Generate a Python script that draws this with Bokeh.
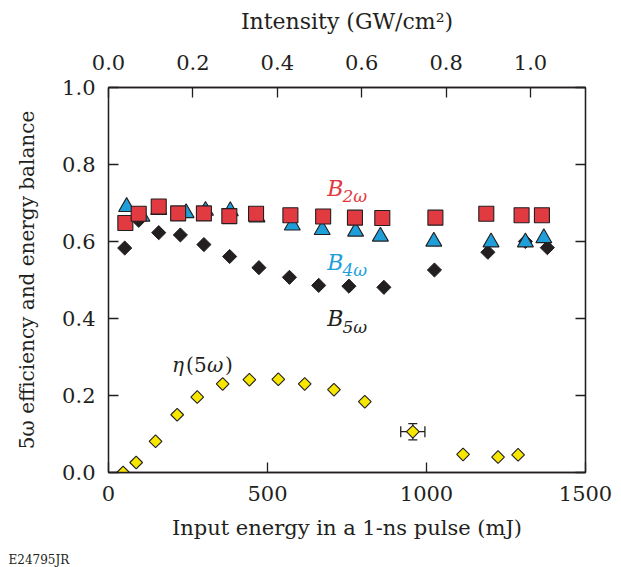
import math
from bokeh.plotting import figure
from bokeh.models import (Range1d, LinearAxis, FixedTicker, NumeralTickFormatter,
                          Label, Whisker, ColumnDataSource, TeeHead, Title)
from bokeh.embed import file_html
from bokeh.resources import INLINE

# ---------------- data ----------------
# B(2w) energy balance, red squares
b2_energy = [53, 95, 158, 219, 300, 380, 464, 572, 675, 775, 861, 1028, 1188, 1299, 1363]
b2_value = [0.648, 0.672, 0.691, 0.673, 0.673, 0.666, 0.672, 0.668, 0.665, 0.662, 0.661,
            0.662, 0.672, 0.668, 0.668]

# B(4w) energy balance, blue triangles
b4_energy = [57, 105, 158, 244, 305, 383, 467, 578, 672, 777, 855, 1023, 1203, 1311, 1369]
b4_value = [0.690, 0.665, 0.682, 0.674, 0.680, 0.679, 0.663, 0.642, 0.630, 0.626, 0.613,
            0.600, 0.598, 0.598, 0.609]

# B(5w) energy balance, black diamonds
b5_energy = [51, 95, 158, 226, 300, 381, 473, 569, 661, 756, 866, 1025, 1193, 1311, 1380]
b5_value = [0.583, 0.655, 0.623, 0.617, 0.592, 0.561, 0.532, 0.507, 0.486, 0.484, 0.481,
            0.526, 0.572, 0.600, 0.584]

# eta(5w) conversion efficiency, yellow diamonds
eta_energy = [46, 87, 148, 216, 279, 359, 443, 534, 617, 709, 806, 957, 1115, 1225, 1288]
eta_value = [0.000, 0.026, 0.081, 0.150, 0.196, 0.230, 0.241, 0.242, 0.230, 0.215, 0.184,
             0.106, 0.047, 0.040, 0.046]

# representative error bar (one point)
err_energy = [957]
err_value = [0.106]
err_energy_half = [38]
err_value_half = [0.021]

x_ticks = [0, 500, 1000, 1500]
y_ticks = [0.0, 0.2, 0.4, 0.6, 0.8, 1.0]
intensity_ticks = [0.0, 0.2, 0.4, 0.6, 0.8, 1.0]
mj_per_intensity = 1327.0   # mJ per GW/cm^2 (top axis scale)

# ---------------- styling ----------------
FONT = "DejaVu Serif"
INK = "#231F20"
RED = "#E13A40"
BLUE = "#1F9FD9"
YELLOW = "#F7E600"
FS = "21px"

p = figure(width=621, height=567, x_range=Range1d(0, 1500), y_range=Range1d(0, 1),
           output_backend="svg", toolbar_location=None,
           x_axis_location=None, y_axis_location=None,
           min_border_left=108, min_border_right=36, min_border_top=87, min_border_bottom=95)
p.grid.visible = False
p.outline_line_color = INK
p.outline_line_width = 1.3
p.background_fill_color = "white"
p.border_fill_color = "white"
p.extra_x_ranges = {"intensity": Range1d(0, 1500 / mj_per_intensity)}


def style(ax, label_size=FS):
    ax.axis_line_color = INK
    ax.axis_line_width = 1.3
    ax.major_tick_in = 10
    ax.major_tick_out = 0
    ax.minor_tick_in = 0
    ax.minor_tick_out = 0
    ax.major_tick_line_color = INK
    ax.major_tick_line_width = 1.3
    ax.major_label_text_font = FONT
    ax.major_label_text_font_size = FS
    ax.major_label_text_color = INK
    ax.axis_label_text_font = FONT
    ax.axis_label_text_font_size = label_size
    ax.axis_label_text_font_style = "normal"
    ax.axis_label_text_color = INK


bottom = LinearAxis(ticker=FixedTicker(ticks=x_ticks))
style(bottom)
bottom.major_label_standoff = 13
p.add_layout(bottom, "below")

# x-axis title and figure code as stacked titles below the axis
p.add_layout(Title(text="Input energy in a 1-ns pulse (mJ)", align="center",
                   text_font=FONT, text_font_size=FS, text_font_style="normal",
                   text_color=INK, standoff=21), "below")
p.add_layout(Title(text="E24795JR", align="left", offset=-100,
                   text_font=FONT, text_font_size="12px", text_font_style="normal",
                   text_color=INK, standoff=0), "below")

left = LinearAxis(ticker=FixedTicker(ticks=y_ticks),
                  formatter=NumeralTickFormatter(format="0.0"),
                  axis_label="5ω efficiency and energy balance")
style(left, "20px")
left.major_label_standoff = 13
left.axis_label_standoff = 20
p.add_layout(left, "left")

top = LinearAxis(x_range_name="intensity", ticker=FixedTicker(ticks=intensity_ticks),
                 formatter=NumeralTickFormatter(format="0.0"),
                 axis_label="Intensity (GW/cm²)")
style(top, "22px")
top.major_label_standoff = 18
top.axis_label_standoff = 18
p.add_layout(top, "above")

right = LinearAxis(ticker=FixedTicker(ticks=y_ticks),
                   major_label_overrides={t: "" for t in y_ticks})
style(right)
right.major_label_standoff = 0
p.add_layout(right, "right")

# ---------------- glyphs ----------------
src_err = ColumnDataSource(dict(
    x=err_energy, y=err_value,
    xl=[a - b for a, b in zip(err_energy, err_energy_half)],
    xu=[a + b for a, b in zip(err_energy, err_energy_half)],
    yl=[a - b for a, b in zip(err_value, err_value_half)],
    yu=[a + b for a, b in zip(err_value, err_value_half)],
))
wx = Whisker(source=src_err, base="y", lower="xl", upper="xu", dimension="width",
             line_color=INK, line_width=1.3, level="underlay",
             lower_head=TeeHead(size=11, line_color=INK, line_width=1.3),
             upper_head=TeeHead(size=11, line_color=INK, line_width=1.3))
wy = Whisker(source=src_err, base="x", lower="yl", upper="yu", dimension="height",
             line_color=INK, line_width=1.3, level="underlay",
             lower_head=TeeHead(size=9, line_color=INK, line_width=1.3),
             upper_head=TeeHead(size=9, line_color=INK, line_width=1.3))
p.add_layout(wx)
p.add_layout(wy)

p.scatter(b5_energy, b5_value, marker="square", size=10, angle=math.pi / 4,
          fill_color=INK, line_color=INK, line_width=1)
p.scatter(b4_energy, b4_value, marker="triangle", size=16,
          fill_color=BLUE, line_color=INK, line_width=1.1)
p.scatter(b2_energy, b2_value, marker="square", size=15,
          fill_color=RED, line_color=INK, line_width=1.1)
p.scatter(eta_energy, eta_value, marker="square", size=9, angle=math.pi / 4,
          fill_color=YELLOW, line_color=INK, line_width=1.1)

# ---------------- annotations ----------------
def lab(x, y, text, color, size, style="italic", xoff=0):
    p.add_layout(Label(x=x, y=y, text=text, text_color=color, text_font=FONT,
                       text_font_size=size, text_font_style=style, x_offset=xoff,
                       text_baseline="alphabetic", text_align="left"))


lab(688, 0.738, "B", RED, "22px")
lab(736, 0.717, "2ω", RED, "17px")
lab(688, 0.546, "B", BLUE, "22px")
lab(736, 0.525, "4ω", BLUE, "17px")
lab(688, 0.399, "B", INK, "22px")
lab(736, 0.377, "5ω", INK, "17px")

lab(200, 0.278, "η", INK, "20px")
lab(200, 0.278, "(5", INK, "20px", style="normal", xoff=14)
lab(200, 0.278, "ω", INK, "20px", xoff=35)
lab(200, 0.278, ")", INK, "20px", style="normal", xoff=53)

open("out.html", "w").write(file_html(p, INLINE))
